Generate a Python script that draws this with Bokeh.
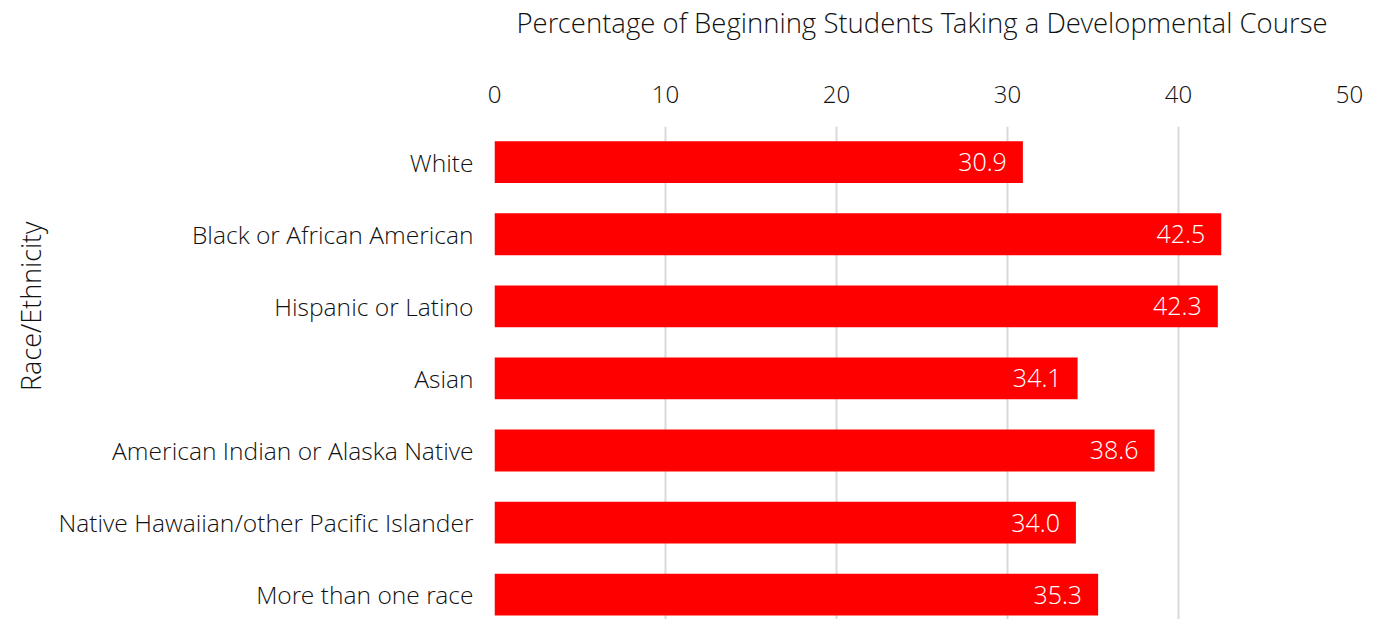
from bokeh.plotting import figure
from bokeh.models import Range1d, FixedTicker, ColumnDataSource, Title
from bokeh.core.properties import value
from bokeh.embed import file_html
from bokeh.resources import INLINE

categories = ["White", "Black or African American", "Hispanic or Latino", "Asian",
              "American Indian or Alaska Native", "Native Hawaiian/other Pacific Islander",
              "More than one race"]
values = [30.9, 42.5, 42.3, 34.1, 38.6, 34.0, 35.3]
x_ticks = [0, 10, 20, 30, 40, 50]
x_title = "Percentage of Beginning Students Taking a Developmental Course"
y_title = "Race/Ethnicity"

FONT = "'Open Sans Light', 'Lato Light', Lato"

idx = list(range(len(categories)))
src = ColumnDataSource(dict(y=idx, v=values, lbl=["%.1f" % v for v in values]))

p = figure(width=1369, height=619, output_backend="svg", toolbar_location=None,
           x_range=Range1d(0, 50), y_range=Range1d(6.345, -0.495),
           x_axis_location="above", min_border_left=494, min_border_top=121,
           min_border_right=20, min_border_bottom=0)
p.outline_line_color = None

p.hbar(y="y", left=0, right="v", height=0.58, source=src, fill_color="#ff0000", line_color=None)
p.text(x="v", y="y", text="lbl", source=src, text_align="right", text_baseline="middle",
       x_offset=-16, text_color="white", text_font=value(FONT), text_font_size="25px")

xa = p.xaxis[0]
xa.ticker = FixedTicker(ticks=x_ticks)
xa.axis_label = x_title
xa.axis_label_text_font = FONT
xa.axis_label_text_font_size = "27.5px"
xa.axis_label_text_font_style = "normal"
xa.axis_label_text_color = "#111111"
xa.axis_label_standoff = 42
xa.major_label_text_font = FONT
xa.major_label_text_font_size = "24px"
xa.major_label_text_color = "#111111"
xa.major_label_standoff = 18
xa.axis_line_color = None
xa.major_tick_line_color = None
xa.minor_tick_line_color = None

ya = p.yaxis[0]
ya.ticker = FixedTicker(ticks=idx)
ya.major_label_overrides = {i: c for i, c in zip(idx, categories)}
ya.major_label_text_font = FONT
ya.major_label_text_font_size = "24.6px"
ya.major_label_text_color = "#111111"
ya.major_tick_out = 0
ya.major_tick_in = 0
ya.major_label_standoff = 21
ya.axis_line_color = None
ya.major_tick_line_color = None
ya.minor_tick_line_color = None

ytitle = Title(text=y_title, align="right", offset=95, standoff=14,
               text_font=FONT, text_font_size="27px", text_font_style="normal",
               text_color="#111111")
p.add_layout(ytitle, "left")

p.xgrid.grid_line_color = "#d9d9d9"
p.xgrid.grid_line_width = 2
p.xgrid.ticker = FixedTicker(ticks=x_ticks)
p.ygrid.grid_line_color = None

open("out.html", "w").write(file_html(p, INLINE))
